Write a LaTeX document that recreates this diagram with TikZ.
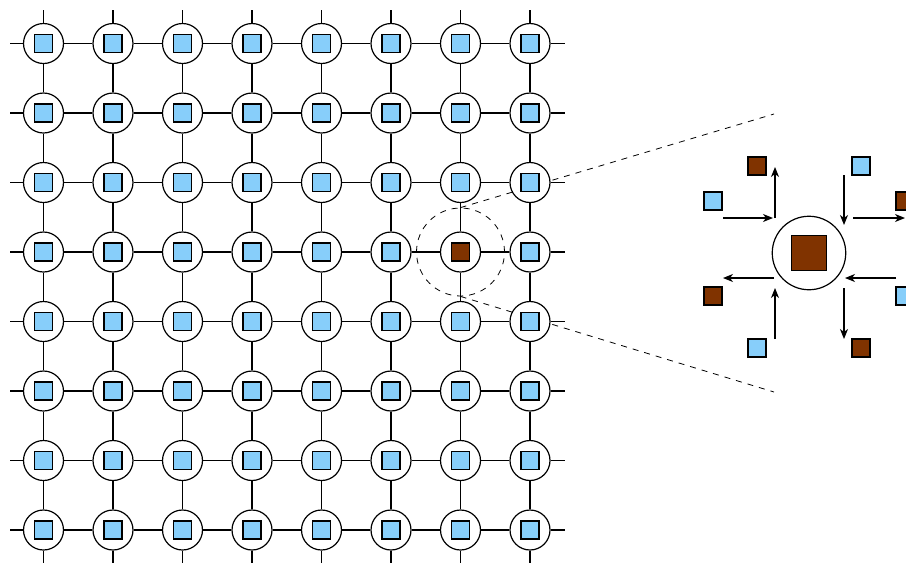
\documentclass[tikz,border=0pt]{standalone}
\usetikzlibrary{backgrounds,arrows.meta}
\definecolor{skyblue}{RGB}{135,206,250}
\definecolor{rust}{RGB}{128,51,0}
\begin{document}
\begin{tikzpicture}[x=0.5pt,y=-0.5pt,semithick,
		router/.style={circle,draw,fill=white,minimum size=20pt,inner sep=0pt},
		pkt/.style={rectangle,draw,fill=skyblue,minimum size=9pt,inner sep=0pt},
		hot/.style={pkt,fill=rust}]
	\useasboundingbox (0,0) rectangle (906,563);

	% mesh of routers
	\foreach \i in {1,...,8} {
		\foreach \j in {1,...,8} {
			\node [router] (r-\i-\j) at ({43.5+69.5*(\i-1)},{43.5+69.5*(\j-1)}) {};
			\ifnum\i\j=74
				\node [hot] (p-\i-\j) at (r-\i-\j) {};
			\else
				\node [pkt] (p-\i-\j) at (r-\i-\j) {};
			\fi
		}
	}

	\foreach \i [count=\k from 2] in {1,...,7} {
		\foreach \j in {1,...,8} {
			\draw (r-\i-\j) -- (r-\k-\j);
			\draw (r-\j-\i) -- (r-\j-\k);
		}
	}

	\foreach \i in {1,...,8} {
		\coordinate (top-\i) at ({43.5+69.5*(\i-1)},10);
		\coordinate (bot-\i) at ({43.5+69.5*(\i-1)},563);
		\coordinate (lft-\i) at (10,{43.5+69.5*(\i-1)});
		\coordinate (rgt-\i) at (565,{43.5+69.5*(\i-1)});
		\draw (r-\i-1) -- (top-\i);
		\draw (r-\i-8) -- (bot-\i);
		\draw (r-1-\i) -- (lft-\i);
		\draw (r-8-\i) -- (rgt-\i);
	}

	% zoomed router
	\node [circle, draw, thin, dashed, minimum size=44pt] (lens) at (r-7-4) {};
	\coordinate (fan-a) at (774,114);
	\coordinate (fan-b) at (774,392);
	\begin{scope}[on background layer]
		\draw [thin, dashed] (lens.north) -- (fan-a);
		\draw [thin, dashed] (lens.south) -- (fan-b);
	\end{scope}

	\node [router, minimum size=36.75pt] (hub) at (809,253) {};
	\node [hot, minimum size=17.5pt] (hub-p) at (hub) {};

	\node [hot] (q-nw) at (757,166) {};
	\node [pkt] (q-ne) at (861,166) {};
	\node [pkt] (q-wn) at (713,201) {};
	\node [hot] (q-en) at (905,201) {};
	\node [hot] (q-ws) at (713,296) {};
	\node [pkt] (q-es) at (905,296) {};
	\node [pkt] (q-sw) at (757,348) {};
	\node [hot] (q-se) at (861,348) {};

	\foreach \n/\xa/\ya/\xb/\yb in {
			w1/723/218/773/218, n1/775/218/775/167,
			n2/844/175/844/225, e1/853/218/905/218,
			w2/774/278/723/278, s1/775/339/775/288,
			e2/896/278/845/278, s2/844/288/844/339} {
		\coordinate (\n-s) at (\xa,\ya);
		\coordinate (\n-e) at (\xb,\yb);
		\draw [-{Stealth[length=5pt,width=4pt,inset=1.5pt]}] (\n-s) -- (\n-e);
	}
\end{tikzpicture}
\end{document}
